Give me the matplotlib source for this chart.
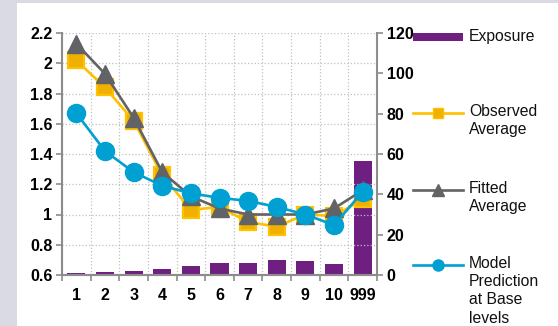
import matplotlib
matplotlib.use("Agg")
import matplotlib.pyplot as plt
import numpy as np
from matplotlib.lines import Line2D
from matplotlib.patches import Rectangle

plt.rcParams['font.family'] = ['Liberation Sans', 'DejaVu Sans']

# data
categories = ['1', '2', '3', '4', '5', '6', '7', '8', '9', '10', '999']
exposure = [1.1, 1.5, 2.0, 3.1, 4.5, 5.9, 5.8, 7.4, 6.9, 5.3, 56.7]
observed = [2.02, 1.84, 1.62, 1.26, 1.03, 1.05, 0.95, 0.92, 1.00, 0.99, 1.10]
fitted = [2.13, 1.93, 1.64, 1.28, 1.12, 1.04, 1.00, 1.00, 1.00, 1.04, 1.16]
model = [1.67, 1.42, 1.28, 1.19, 1.14, 1.11, 1.09, 1.05, 1.00, 0.93, 1.15]
left_ticks = [0.6, 0.8, 1, 1.2, 1.4, 1.6, 1.8, 2, 2.2]
right_ticks = [0, 20, 40, 60, 80, 100, 120]

purple = '#6e1f80'
orange = '#ffc000'
orange_fill = '#f0b000'
grey = '#626366'
blue = '#00a0d2'
spine_c = '#8c8c8c'
tick_fs = 11.5
leg_fs = 11.3

fig = plt.figure(figsize=(5.58, 3.26), dpi=100)
fig.patch.set_facecolor('#dadae4')
fig.add_artist(Rectangle((17 / 558, 0), 1, 1 - 3 / 326, transform=fig.transFigure,
                         facecolor='white', edgecolor='none', zorder=-10))

ax = fig.add_axes([62 / 558, 51 / 326, 315 / 558, 242 / 326])
ax2 = ax.twinx()
ax.set_zorder(ax2.get_zorder() + 1)
ax.patch.set_visible(False)

x = np.arange(len(categories))

# exposure bars on the right axis
ax2.bar(x, exposure, width=0.63, color=purple, zorder=2)
ax2.set_ylim(0, 120)
ax2.set_yticks(right_ticks)
ax2.set_yticklabels([str(t) for t in right_ticks], fontweight='bold', fontsize=tick_fs)

# lines on the left axis
ax.plot(x, observed, color=orange, lw=1.9, marker='s', ms=11,
        mfc=orange_fill, mec=orange, mew=1.6, zorder=3)
ax.plot(x, fitted, color=grey, lw=1.9, marker='^', ms=13,
        mfc=grey, mec=grey, zorder=4)
ax.plot(x, model, color=blue, lw=1.9, marker='o', ms=13,
        mfc=blue, mec=blue, zorder=5)

ax.set_xlim(-0.5, len(categories) - 0.5)
ax.set_ylim(0.6, 2.2)
ax.set_yticks(left_ticks)
ax.set_yticklabels(['0.6', '0.8', '1', '1.2', '1.4', '1.6', '1.8', '2', '2.2'],
                   fontweight='bold', fontsize=tick_fs)
ax.set_xticks(x)
ax.set_xticklabels(categories, fontweight='bold', fontsize=tick_fs)
ax.set_xticks(np.arange(-0.5, len(categories)), minor=True)
ax.tick_params(axis='x', which='major', length=0, pad=9)
ax.tick_params(axis='x', which='minor', length=4, width=1.2, color=spine_c, direction='out')
ax.tick_params(axis='y', length=4, width=1.2, color=spine_c, pad=3)
ax2.tick_params(axis='y', length=4, width=1.2, color=spine_c, pad=3)

# dotted grid
ax.grid(True, axis='y', which='major', color='#c0c0c0', ls=':', lw=0.9)
ax.grid(True, axis='x', which='minor', color='#c0c0c0', ls=':', lw=0.9)
ax.set_axisbelow(True)

for a in (ax, ax2):
    a.spines['top'].set_visible(False)
    for s in ('left', 'right', 'bottom'):
        a.spines[s].set_color(spine_c)
        a.spines[s].set_linewidth(1.5)
ax2.spines['left'].set_visible(False)
ax.spines['right'].set_visible(False)

# legend, handle lines up with the first line of text
def px(xp, yp):
    return xp / 558, 1 - yp / 326

x0, x1, xt = 413, 463, 469
y_exp = 37
fig.add_artist(Rectangle(px(x0, y_exp + 4), (x1 - x0) / 558, 8 / 326,
                         transform=fig.transFigure, facecolor=purple, edgecolor='none'))
fig.text(*px(xt, y_exp), 'Exposure', fontsize=leg_fs, va='center', color='#111111')

entries = [
    (113, orange, 's', orange_fill, 7, 'Observed\nAverage'),
    (190, grey, '^', grey, 8, 'Fitted\nAverage'),
    (265, blue, 'o', blue, 8, 'Model\nPrediction\nat Base\nlevels'),
]
for yp, col, mk, mfc, ms, label in entries:
    (ax_, ay), (bx, _) = px(x0, yp), px(x1, yp)
    fig.add_artist(Line2D([ax_, bx], [ay, ay], transform=fig.transFigure, color=col, lw=1.9))
    fig.add_artist(Line2D([(ax_ + bx) / 2], [ay], transform=fig.transFigure, marker=mk,
                          ms=ms, mfc=mfc, mec=col, lw=0))
    fig.text(*px(xt, yp - 9), label, fontsize=leg_fs, va='top', color='#111111',
             linespacing=1.27)

fig.savefig('out.png', dpi=100, facecolor=fig.get_facecolor())
